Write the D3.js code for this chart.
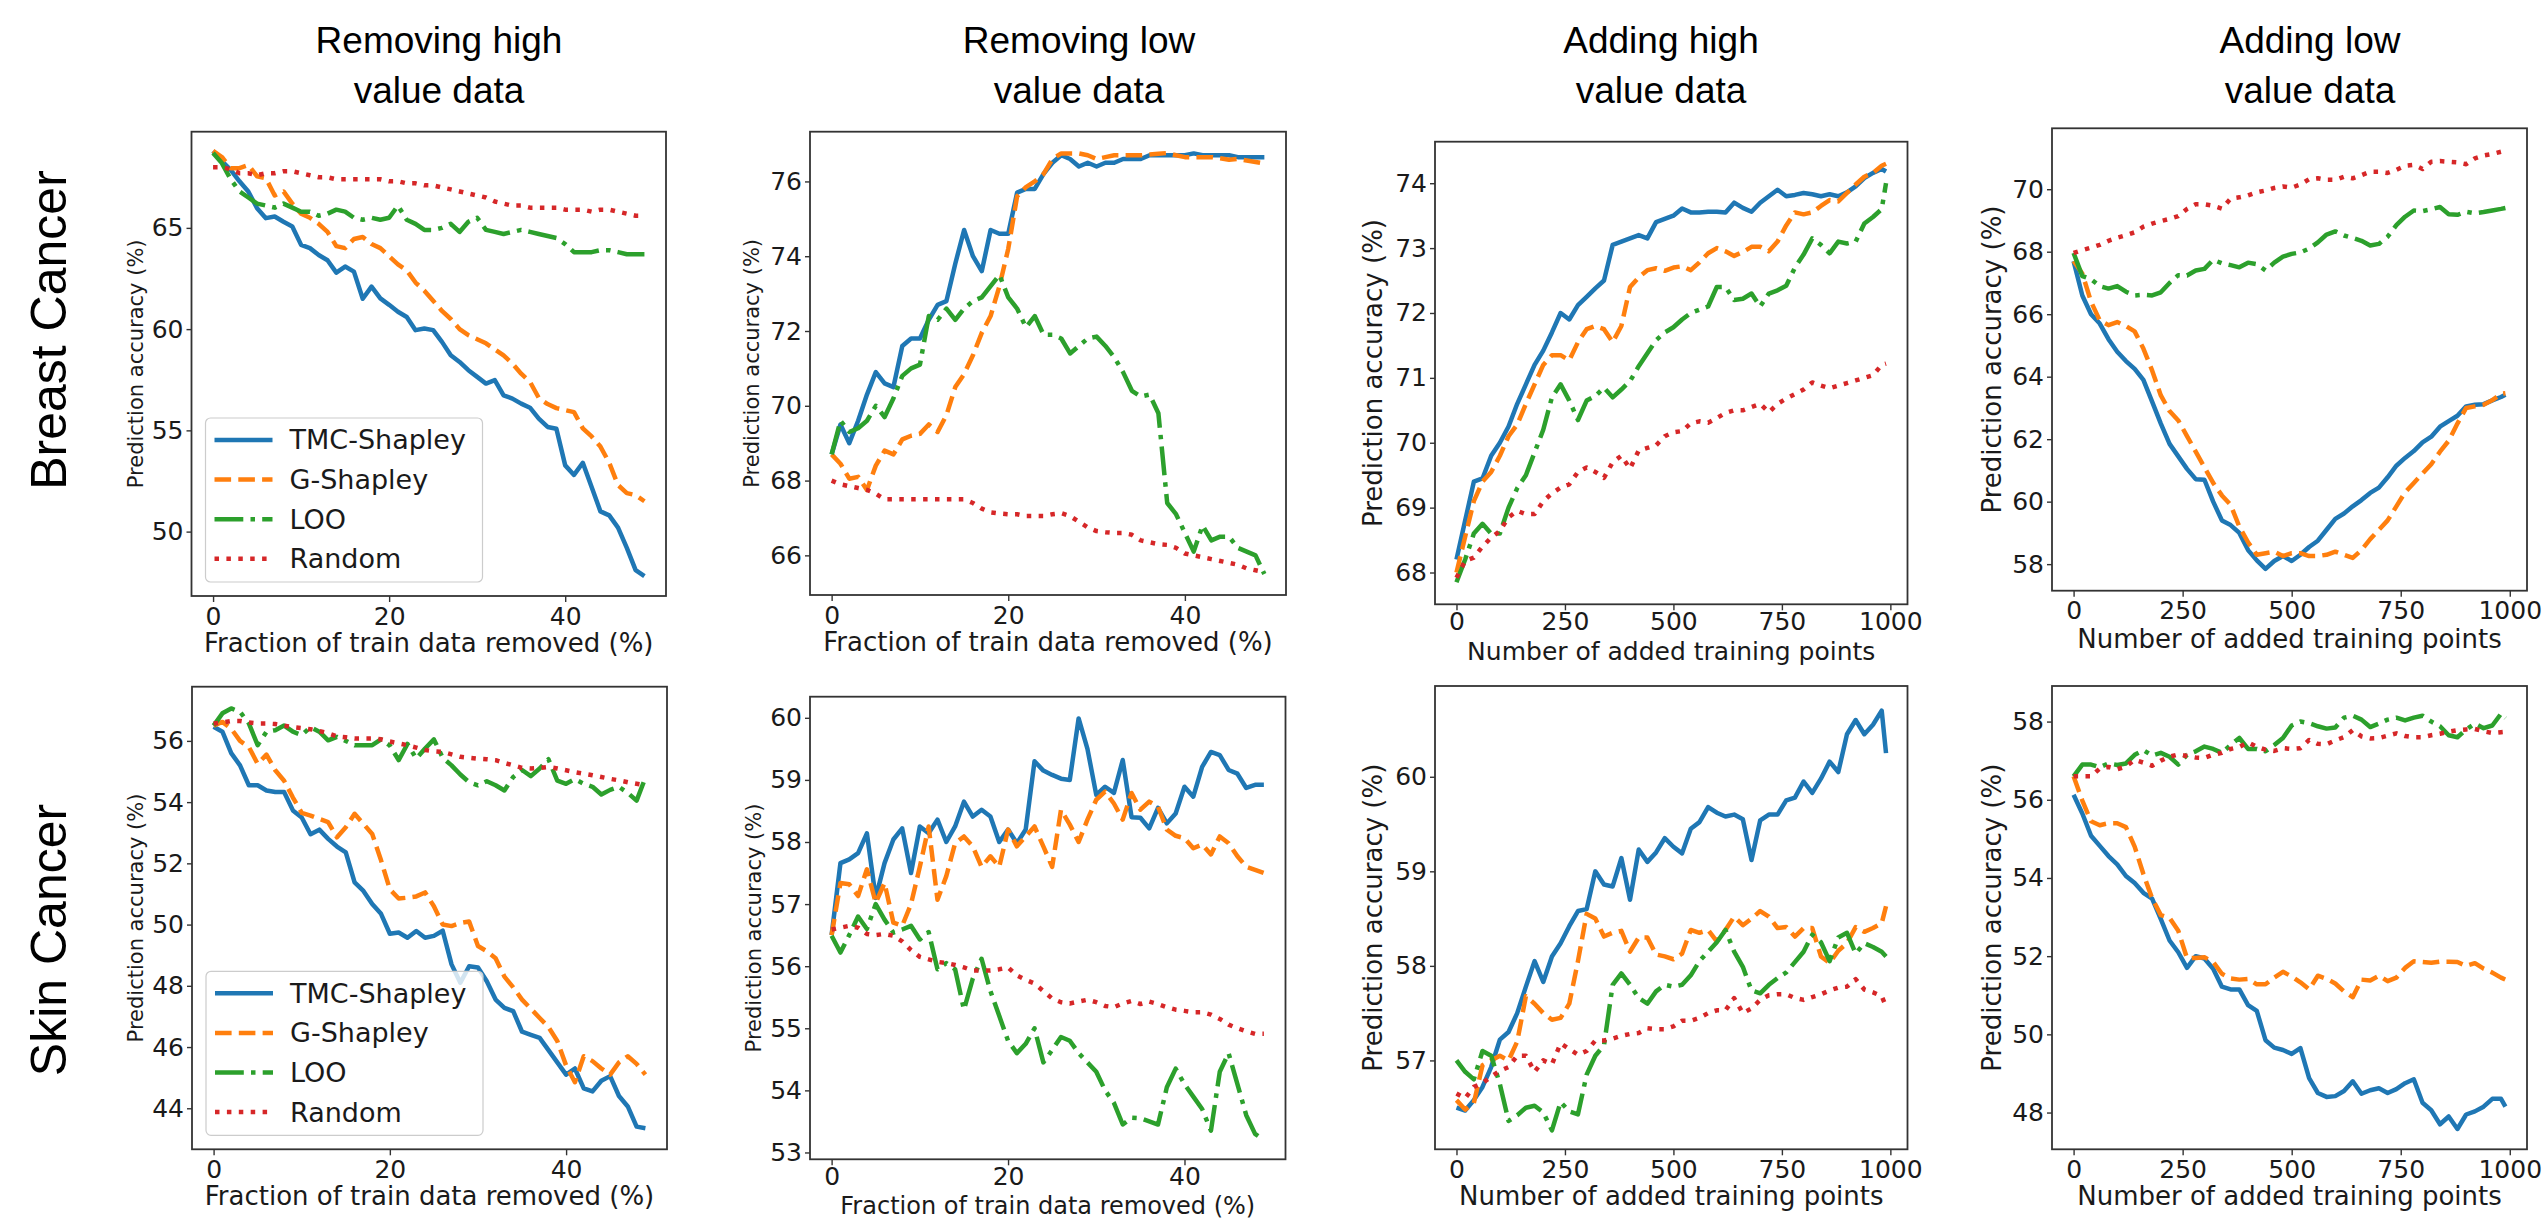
<!DOCTYPE html>
<html><head><meta charset="utf-8">
<script src="https://cdn.jsdelivr.net/npm/d3@7"></script>
<style>body{margin:0;background:#fff}svg{display:block}</style>
</head><body>
<svg id="chart" width="2545" height="1220"></svg>
<script>
// ---------------- DATA ----------------
const methods = ["TMC-Shapley", "G-Shapley", "LOO", "Random"];
const colTitles = [["Removing high", "value data"], ["Removing low", "value data"], ["Adding high", "value data"], ["Adding low", "value data"]];
const rowTitles = ["Breast Cancer", "Skin Cancer"];
const yLabel = "Prediction accuracy (%)";
const xLabelRemove = "Fraction of train data removed (%)";
const xLabelAdd = "Number of added training points";

const fracRemoved = [0,1,2,3,4,5,6,7,8,9,10,11,12,13,14,15,16,17,18,19,20,21,22,23,24,25,26,27,28,29,30,31,32,33,34,35,36,37,38,39,40,41,42,43,44,45,46,47,48,49];
const nAdded = [0,20,40,60,80,100,120,140,160,180,200,220,240,260,280,300,320,340,360,380,400,420,440,460,480,500,520,540,560,580,600,620,640,660,680,700,720,740,760,780,800,820,840,860,880,900,920,940,960,980,990];

const removeTicks = [0,20,40];
const addTicks = [0,250,500,750,1000];

// Breast cancer - removing high value data
const bcRemHighTMC = [68.8,68.3,67.87,67.3,66.8,65.97,65.48,65.56,65.3,65.07,64.16,64.0,63.66,63.4,62.79,63.09,62.84,61.5,62.1,61.52,61.2,60.86,60.6,59.95,60.03,59.95,59.37,58.71,58.38,57.97,57.64,57.31,57.48,56.73,56.57,56.32,56.12,55.58,55.17,55.08,53.27,52.8,53.4,52.2,51.0,50.8,50.2,49.2,48.1,47.8];
const bcRemHighG = [68.8,68.5,67.95,67.95,68.1,67.55,67.45,66.6,66.8,66.2,65.7,65.5,65.2,64.8,64.1,64.0,64.45,64.55,64.2,64.0,63.6,63.2,62.9,62.3,61.9,61.4,60.9,60.5,60.0,59.7,59.5,59.3,59.0,58.7,58.3,57.8,57.4,56.6,56.3,56.1,56.0,55.9,55.1,54.7,54.2,53.4,52.3,51.9,51.8,51.5];
const bcRemHighLOO = [68.7,68.2,67.4,66.8,66.5,66.2,66.1,66.0,66.2,66.0,65.8,65.8,65.6,65.7,65.9,65.8,65.5,65.4,65.5,65.4,65.5,66.1,65.4,65.2,64.9,64.9,65.0,65.2,64.8,65.3,65.5,64.9,64.8,64.7,64.8,64.9,64.8,64.7,64.6,64.5,64.2,63.8,63.8,63.8,63.9,63.9,63.8,63.7,63.7,63.7];
const bcRemHighRand = [68.0,68.0,67.9,67.7,67.7,67.6,67.7,67.7,67.8,67.8,67.7,67.6,67.5,67.5,67.4,67.4,67.4,67.4,67.4,67.4,67.3,67.3,67.2,67.2,67.1,67.1,67.0,66.9,66.8,66.7,66.6,66.5,66.3,66.2,66.1,66.1,66.0,66.0,66.0,66.0,65.9,65.9,65.9,65.8,65.9,65.9,65.8,65.7,65.6,65.6];

// Breast cancer - removing low value data
const bcRemLowTMC = [68.7,69.5,69.0,69.6,70.3,70.9,70.6,70.5,71.6,71.8,71.8,72.3,72.7,72.8,73.8,74.7,74.0,73.6,74.7,74.6,74.6,75.7,75.8,75.8,76.2,76.5,76.7,76.6,76.4,76.5,76.4,76.5,76.5,76.6,76.6,76.6,76.7,76.7,76.7,76.7,76.7,76.75,76.7,76.7,76.7,76.7,76.65,76.65,76.65,76.65];
const bcRemLowG = [68.7,68.45,68.05,68.1,67.75,68.4,68.8,68.7,69.1,69.2,69.25,69.5,69.3,69.75,70.5,70.85,71.35,71.95,72.4,73.2,74.2,75.6,75.85,76.0,76.2,76.6,76.75,76.75,76.75,76.7,76.6,76.65,76.7,76.7,76.7,76.7,76.72,76.74,76.76,76.7,76.65,76.65,76.65,76.65,76.62,76.58,76.6,76.56,76.52,76.48];
const bcRemLowLOO = [68.7,69.6,69.3,69.4,69.6,70.0,69.7,70.2,70.8,71.0,71.1,72.4,72.3,72.6,72.3,72.6,72.8,72.9,73.2,73.5,72.9,72.6,72.1,72.4,71.9,71.9,71.8,71.4,71.6,71.8,71.85,71.6,71.3,70.9,70.4,70.25,70.3,69.8,67.4,67.1,66.6,66.1,66.8,66.4,66.5,66.5,66.2,66.1,66.0,65.5];
const bcRemLowRand = [68.0,67.9,67.85,67.8,67.75,67.65,67.5,67.5,67.5,67.5,67.5,67.5,67.5,67.5,67.5,67.5,67.4,67.25,67.15,67.12,67.1,67.1,67.05,67.05,67.05,67.1,67.13,67.05,66.9,66.75,66.65,66.62,66.6,66.6,66.55,66.4,66.35,66.3,66.28,66.2,66.05,66.0,65.95,65.9,65.85,65.8,65.75,65.65,65.6,65.55];

// Breast cancer - adding high value data
const bcAddHighTMC = [68.2,68.8,69.4,69.45,69.8,70.0,70.25,70.6,70.9,71.2,71.42,71.7,72.0,71.9,72.12,72.25,72.38,72.5,73.05,73.1,73.15,73.2,73.15,73.4,73.45,73.5,73.61,73.55,73.55,73.56,73.56,73.55,73.7,73.62,73.56,73.7,73.8,73.9,73.8,73.82,73.85,73.83,73.8,73.83,73.8,73.86,73.95,74.08,74.16,74.22,74.18];
const bcAddHighG = [68.0,68.55,69.1,69.4,69.55,69.8,70.1,70.28,70.6,70.9,71.2,71.35,71.35,71.27,71.55,71.75,71.8,71.75,71.55,71.8,72.4,72.55,72.66,72.69,72.65,72.7,72.72,72.66,72.78,72.92,73.0,72.95,72.88,72.94,73.02,73.02,72.95,73.1,73.35,73.55,73.52,73.55,73.65,73.74,73.72,73.85,73.98,74.1,74.16,74.27,74.3];
const bcAddHighLOO = [67.85,68.2,68.6,68.75,68.6,68.6,69.0,69.3,69.5,69.85,70.2,70.7,70.9,70.65,70.35,70.65,70.72,70.85,70.7,70.82,70.95,71.18,71.38,71.58,71.7,71.78,71.9,72.0,72.05,72.1,72.4,72.4,72.2,72.22,72.3,72.1,72.3,72.35,72.42,72.7,72.9,73.15,73.05,72.92,73.1,73.07,73.1,73.38,73.48,73.6,74.0];
const bcAddHighRand = [67.92,68.18,68.23,68.4,68.54,68.64,68.85,68.95,68.9,68.9,69.1,69.22,69.31,69.36,69.55,69.62,69.55,69.46,69.7,69.8,69.6,69.88,69.92,69.96,70.1,70.16,70.18,70.3,70.33,70.31,70.38,70.46,70.5,70.5,70.55,70.6,70.47,70.6,70.68,70.75,70.82,70.93,70.88,70.84,70.88,70.92,70.96,71.0,71.04,71.2,71.22];

// Breast cancer - adding low value data
const bcAddLowTMC = [67.7,66.6,66.0,65.7,65.2,64.8,64.5,64.25,63.9,63.2,62.5,61.85,61.45,61.05,60.72,60.7,60.0,59.4,59.25,59.0,58.45,58.12,57.85,58.1,58.26,58.1,58.3,58.55,58.75,59.1,59.45,59.62,59.85,60.05,60.28,60.45,60.78,61.15,61.4,61.62,61.9,62.08,62.4,62.58,62.75,63.05,63.1,63.12,63.24,63.35,63.42];
const bcAddLowG = [67.7,67.3,66.4,65.8,65.65,65.75,65.62,65.45,64.9,64.2,63.4,62.9,62.6,62.1,61.6,61.1,60.6,60.2,59.9,59.2,58.7,58.3,58.35,58.4,58.26,58.35,58.35,58.26,58.26,58.3,58.4,58.3,58.2,58.45,58.8,59.1,59.4,59.85,60.3,60.6,60.9,61.2,61.6,61.95,62.5,63.0,63.05,63.1,63.25,63.45,63.47];
const bcAddLowLOO = [67.96,67.22,67.12,66.9,66.82,66.9,66.72,66.6,66.62,66.6,66.7,67.0,67.25,67.24,67.4,67.45,67.74,67.63,67.57,67.5,67.65,67.6,67.4,67.65,67.84,67.93,67.98,68.1,68.3,68.55,68.65,68.52,68.44,68.35,68.2,68.25,68.48,68.85,69.12,69.32,69.3,69.36,69.43,69.2,69.18,69.28,69.23,69.27,69.32,69.37,69.4];
const bcAddLowRand = [67.96,68.05,68.13,68.22,68.35,68.45,68.53,68.62,68.8,68.9,68.98,69.05,69.14,69.37,69.52,69.52,69.47,69.38,69.7,69.74,69.8,69.9,69.96,70.04,70.09,70.05,70.15,70.32,70.35,70.3,70.3,70.4,70.35,70.45,70.56,70.56,70.52,70.62,70.75,70.78,70.65,70.88,70.9,70.88,70.86,70.8,70.99,71.08,71.13,71.2,71.22];

// Skin cancer - removing high value data
const scRemHighTMC = [56.46,56.3,55.6,55.2,54.55,54.55,54.38,54.33,54.33,53.73,53.5,52.95,53.1,52.8,52.55,52.36,51.38,51.1,50.67,50.35,49.7,49.74,49.57,49.79,49.57,49.63,49.8,48.7,48.1,48.64,48.6,48.15,47.55,47.28,47.17,46.5,46.4,46.3,45.9,45.5,45.1,45.3,44.65,44.55,44.9,45.05,44.4,44.06,43.4,43.35];
const scRemHighG = [56.5,56.62,56.4,56.0,55.8,55.25,55.55,55.04,54.7,54.15,53.65,53.56,53.45,53.35,52.85,53.18,53.62,53.29,52.96,52.1,51.15,50.85,50.88,50.92,51.05,50.6,50.0,49.95,50.05,50.1,49.3,49.13,48.9,48.3,47.95,47.55,47.25,46.95,46.65,46.2,45.4,44.85,45.7,45.54,45.3,45.1,45.5,45.7,45.45,45.1];
const scRemHighLOO = [56.5,56.9,57.06,56.95,56.57,55.86,56.3,56.35,56.5,56.3,56.19,56.45,56.3,56.02,56.13,56.0,55.86,55.86,55.86,56.05,55.85,55.37,55.9,55.42,55.75,56.05,55.45,55.2,54.9,54.65,54.55,54.68,54.55,54.38,54.82,55.05,54.85,55.1,55.4,54.7,54.6,54.75,54.6,54.5,54.25,54.4,54.5,54.3,54.05,54.8];
const scRemHighRand = [56.57,56.6,56.65,56.65,56.6,56.57,56.57,56.55,56.5,56.45,56.42,56.38,56.32,56.25,56.15,56.12,56.08,56.08,56.08,56.05,55.98,55.92,55.86,55.78,55.7,55.66,55.64,55.56,55.48,55.45,55.42,55.4,55.37,55.28,55.2,55.12,55.1,55.12,55.15,55.1,55.04,54.98,54.93,54.88,54.82,54.76,54.71,54.65,54.6,54.55];

// Skin cancer - removing low value data
const scRemLowTMC = [56.5,57.66,57.72,57.82,58.14,57.1,57.66,58.04,58.22,57.5,58.25,58.14,58.36,58.0,58.25,58.65,58.41,58.52,58.41,58.0,58.2,57.98,58.2,59.3,59.15,59.08,59.02,59.0,59.99,59.5,58.76,58.89,58.79,59.32,58.4,58.39,58.22,58.55,58.3,58.46,58.89,58.73,59.21,59.45,59.4,59.16,59.1,58.87,58.92,58.92];
const scRemLowG = [56.5,57.34,57.32,57.13,57.56,57.02,57.34,56.7,56.65,57.0,57.6,58.25,57.07,57.45,57.98,58.09,57.93,57.6,57.77,57.6,58.2,57.93,58.09,58.25,57.93,57.6,58.52,58.28,58.0,58.36,58.68,58.81,58.62,58.36,58.79,58.52,58.65,58.57,58.2,58.1,58.06,57.9,57.96,57.8,58.09,57.98,57.77,57.6,57.55,57.5];
const scRemLowLOO = [56.49,56.22,56.5,56.8,56.6,57.0,56.75,56.54,56.59,56.65,56.43,56.55,55.95,56.05,55.95,55.3,55.8,56.12,55.6,55.2,54.8,54.6,54.75,55.0,54.45,54.65,54.86,54.8,54.6,54.45,54.3,54.0,53.8,53.45,53.56,53.55,53.5,53.45,54.05,54.35,54.1,53.9,53.7,53.35,54.3,54.6,54.1,53.6,53.3,53.2];
const scRemLowRand = [56.59,56.62,56.65,56.62,56.52,56.5,56.52,56.49,56.4,56.26,56.15,56.11,56.07,56.05,56.02,55.98,55.93,55.93,55.93,55.95,55.98,55.85,55.78,55.72,55.6,55.48,55.42,55.4,55.43,55.46,55.42,55.36,55.34,55.4,55.44,55.39,55.43,55.39,55.34,55.3,55.28,55.26,55.26,55.22,55.15,55.06,55.0,54.95,54.91,54.91];

// Skin cancer - adding high value data
const scAddHighTMC = [56.5,56.47,56.58,56.72,56.93,57.22,57.3,57.5,57.78,58.05,57.83,58.1,58.24,58.42,58.58,58.6,59.0,58.86,58.84,59.14,58.7,59.23,59.1,59.2,59.35,59.26,59.19,59.45,59.52,59.68,59.62,59.58,59.6,59.55,59.12,59.54,59.6,59.6,59.75,59.78,59.95,59.83,59.98,60.16,60.05,60.45,60.6,60.45,60.55,60.7,60.25];
const scAddHighG = [56.58,56.48,56.55,56.95,57.0,57.05,57.0,57.2,57.68,57.6,57.5,57.43,57.45,57.6,58.05,58.55,58.5,58.31,58.35,58.37,58.15,58.3,58.3,58.12,58.1,58.07,58.13,58.38,58.35,58.38,58.26,58.38,58.52,58.43,58.5,58.58,58.52,58.4,58.41,58.31,58.4,58.4,58.1,58.03,58.16,58.24,58.41,58.36,58.4,58.45,58.63];
const scAddHighLOO = [57.0,56.88,56.8,57.1,57.05,56.75,56.36,56.42,56.5,56.52,56.45,56.26,56.56,56.46,56.43,56.85,57.05,57.16,57.8,57.92,57.8,57.66,57.6,57.73,57.8,57.78,57.8,57.9,58.05,58.15,58.25,58.38,58.15,57.99,57.74,57.71,57.8,57.87,57.93,58.04,58.15,58.33,58.25,58.05,58.3,58.35,58.13,58.24,58.2,58.15,58.1];
const scAddHighRand = [56.65,56.6,56.72,56.76,56.83,56.89,56.93,57.05,57.05,56.88,57.0,56.96,57.18,57.12,57.06,57.1,57.21,57.21,57.23,57.26,57.28,57.29,57.34,57.33,57.33,57.36,57.42,57.42,57.45,57.5,57.53,57.53,57.66,57.5,57.55,57.64,57.69,57.7,57.7,57.66,57.64,57.67,57.7,57.74,57.77,57.78,57.86,57.75,57.72,57.68,57.57];

// Skin cancer - adding low value data
const scAddLowTMC = [56.13,55.65,55.08,54.82,54.56,54.35,54.05,53.87,53.62,53.47,52.95,52.4,52.1,51.7,52.0,51.94,51.68,51.22,51.15,51.15,50.75,50.6,49.85,49.66,49.6,49.5,49.65,48.88,48.5,48.4,48.42,48.55,48.8,48.48,48.57,48.62,48.5,48.6,48.75,48.85,48.25,48.06,47.7,47.9,47.58,47.95,48.03,48.15,48.35,48.35,48.15];
const scAddLowG = [56.6,55.98,55.45,55.35,55.4,55.4,55.3,54.8,54.1,53.48,53.05,52.98,52.65,51.95,51.95,51.97,51.85,51.55,51.43,51.4,51.42,51.28,51.28,51.45,51.6,51.48,51.33,51.15,51.5,51.42,51.3,51.1,50.95,51.4,51.38,51.5,51.36,51.45,51.7,51.87,51.85,51.83,51.86,51.86,51.85,51.75,51.82,51.68,51.58,51.45,51.4];
const scAddLowLOO = [56.6,56.9,56.9,56.83,56.93,56.89,56.93,57.15,57.27,57.13,57.2,57.1,56.9,57.15,57.24,57.36,57.3,57.2,57.4,57.58,57.3,57.3,57.24,57.4,57.58,57.9,58.0,57.96,57.88,57.82,57.85,58.1,58.15,58.05,57.86,57.95,58.05,58.1,58.03,58.1,58.15,58.0,57.88,57.65,57.6,57.8,57.95,57.83,57.9,58.2,58.09];
const scAddLowRand = [56.6,56.6,56.6,56.8,56.84,56.78,56.85,57.02,56.95,56.87,57.0,57.1,57.16,57.12,57.08,57.07,57.15,57.2,57.3,57.35,57.47,57.36,57.28,57.25,57.32,57.3,57.32,57.53,57.43,57.42,57.52,57.6,57.78,57.62,57.57,57.58,57.64,57.7,57.63,57.6,57.6,57.65,57.69,57.74,57.78,57.8,57.81,57.75,57.71,57.73,57.74];

// ---------------- LAYOUT / STYLE ----------------
const colors = ["#1f77b4", "#ff7f0e", "#2ca02c", "#d62728"];
const LW = 4.5;
const dashes = [null, "16.6,7.2", "28.8,7.2,4.5,7.2", "4.5,7.4"];

const panels = [
  {xs: fracRemoved, series: [bcRemHighTMC, bcRemHighG, bcRemHighLOO, bcRemHighRand], box: [191.5,131.7,666,596], xDom: [-2.45,51.45], yDom: [46.82,69.75], xt: removeTicks, yt: [50,55,60,65], xl: xLabelRemove, xlOff: 47, xlSize: 26, tPad: 5, ylSize: 21, ylOff: 56, legend: true},
  {xs: fracRemoved, series: [bcRemLowTMC, bcRemLowG, bcRemLowLOO, bcRemLowRand], box: [810,131.7,1286,595], xDom: [-2.45,51.45], yDom: [64.94,77.33], xt: removeTicks, yt: [66,68,70,72,74,76], xl: xLabelRemove, xlOff: 47, xlSize: 26, tPad: 5, ylSize: 21, ylOff: 58},
  {xs: nAdded, series: [bcAddHighTMC, bcAddHighG, bcAddHighLOO, bcAddHighRand], box: [1435,141.7,1907.5,604.3], xDom: [-49.5,1039.5], yDom: [67.51,74.64], xt: addTicks, yt: [68,69,70,71,72,73,74], xl: xLabelAdd, xlOff: 47, xlSize: 25, tPad: 2, ylSize: 26, ylOff: 62},
  {xs: nAdded, series: [bcAddLowTMC, bcAddLowG, bcAddLowLOO, bcAddLowRand], box: [2052,128.3,2527,590.7], xDom: [-49.5,1039.5], yDom: [57.15,71.95], xt: addTicks, yt: [58,60,62,64,66,68,70], xl: xLabelAdd, xlOff: 48, xlSize: 26, tPad: 5, ylSize: 26, ylOff: 60},
  {xs: fracRemoved, series: [scRemHighTMC, scRemHighG, scRemHighLOO, scRemHighRand], box: [192,686.7,667,1149.3], xDom: [-2.45,51.45], yDom: [42.66,57.77], xt: removeTicks, yt: [44,46,48,50,52,54,56], xl: xLabelRemove, xlOff: 47, xlSize: 26, tPad: 5, ylSize: 21, ylOff: 56, legend: true},
  {xs: fracRemoved, series: [scRemLowTMC, scRemLowG, scRemLowLOO, scRemLowRand], box: [810,696.7,1285.5,1159.3], xDom: [-2.45,51.45], yDom: [52.89,60.34], xt: removeTicks, yt: [53,54,55,56,57,58,59,60], xl: xLabelRemove, xlOff: 46, xlSize: 24, tPad: 2, ylSize: 21, ylOff: 56},
  {xs: nAdded, series: [scAddHighTMC, scAddHighG, scAddHighLOO, scAddHighRand], box: [1435,686,1907.5,1149.3], xDom: [-49.5,1039.5], yDom: [56.06,60.96], xt: addTicks, yt: [57,58,59,60], xl: xLabelAdd, xlOff: 47, xlSize: 26, tPad: 5, ylSize: 26, ylOff: 62},
  {xs: nAdded, series: [scAddLowTMC, scAddLowG, scAddLowLOO, scAddLowRand], box: [2052,686,2527,1149.3], xDom: [-49.5,1039.5], yDom: [47.06,58.91], xt: addTicks, yt: [48,50,52,54,56,58], xl: xLabelAdd, xlOff: 47, xlSize: 26, tPad: 5, ylSize: 26, ylOff: 60}
];

const FONT = "'DejaVu Sans', sans-serif";
const TITLE_FONT = "'Liberation Sans', Arial, sans-serif";
const svg = d3.select("#chart");
svg.append("rect").attr("width", 2545).attr("height", 1220).attr("fill", "#fff");

panels.forEach(p => {
  const [L, T, R, B] = p.box;
  const x = d3.scaleLinear().domain(p.xDom).range([L, R]);
  const y = d3.scaleLinear().domain(p.yDom).range([B, T]);
  const g = svg.append("g");

  const line = d3.line().x((d, i) => x(p.xs[i])).y(d => y(d));
  p.series.forEach((vals, k) => {
    g.append("path").datum(vals).attr("d", line)
      .attr("fill", "none").attr("stroke", colors[k]).attr("stroke-width", LW)
      .attr("stroke-linejoin", "round").attr("stroke-linecap", "butt")
      .attr("stroke-dasharray", dashes[k]);
  });

  g.append("rect").attr("x", L).attr("y", T).attr("width", R - L).attr("height", B - T)
    .attr("fill", "none").attr("stroke", "#333").attr("stroke-width", 1.8);

  const ax = g.append("g").attr("transform", `translate(0,${B})`)
    .call(d3.axisBottom(x).tickValues(p.xt).tickSize(6).tickPadding(p.tPad).tickFormat(d3.format("d")));
  ax.select(".domain").remove();
  ax.selectAll("line").attr("stroke", "#333").attr("stroke-width", 1.4);
  ax.selectAll("text").attr("font-size", 25).attr("font-family", FONT).attr("fill", "#1a1a1a");

  const ay = g.append("g").attr("transform", `translate(${L},0)`)
    .call(d3.axisLeft(y).tickValues(p.yt).tickSize(5).tickPadding(3).tickFormat(d3.format("d")));
  ay.select(".domain").remove();
  ay.selectAll("line").attr("stroke", "#333").attr("stroke-width", 1.4);
  ay.selectAll("text").attr("font-size", 25).attr("font-family", FONT).attr("fill", "#1a1a1a");

  g.append("text").attr("x", (L + R) / 2).attr("y", B + p.xlOff).attr("dy", "0.35em")
    .attr("text-anchor", "middle").attr("font-family", FONT).attr("font-size", p.xlSize).attr("fill", "#1a1a1a")
    .text(p.xl);

  g.append("text").attr("transform", `translate(${L - p.ylOff},${(T + B) / 2}) rotate(-90)`)
    .attr("dy", "0.35em").attr("text-anchor", "middle").attr("font-family", FONT)
    .attr("font-size", p.ylSize).attr("fill", "#1a1a1a").text(yLabel);

  if (p.legend) {
    const lx = L + 14, lw = 277, lh = 164, ly = B - 14 - lh;
    const lg = g.append("g");
    lg.append("rect").attr("x", lx).attr("y", ly).attr("width", lw).attr("height", lh).attr("rx", 5)
      .attr("fill", "#fff").attr("fill-opacity", 0.8).attr("stroke", "#cccccc").attr("stroke-width", 1.2);
    methods.forEach((m, k) => {
      const cy = ly + 22 + k * 39.6;
      lg.append("line").attr("x1", lx + 9).attr("x2", lx + 67).attr("y1", cy).attr("y2", cy)
        .attr("stroke", colors[k]).attr("stroke-width", LW).attr("stroke-dasharray", dashes[k]);
      lg.append("text").attr("x", lx + 84).attr("y", cy).attr("dy", "0.35em")
        .attr("font-family", FONT).attr("font-size", 27).attr("fill", "#1a1a1a").text(m);
    });
  }
});

// column titles
const titleX = [439, 1079, 1661, 2310];
colTitles.forEach((lines, i) => {
  lines.forEach((t, j) => {
    svg.append("text").attr("x", titleX[i]).attr("y", 53 + j * 50).attr("text-anchor", "middle")
      .attr("font-family", TITLE_FONT).attr("font-size", 37).attr("fill", "#000").text(t);
  });
});

// row titles
const rowY = [330, 940];
rowTitles.forEach((t, i) => {
  svg.append("text").attr("transform", `translate(48,${rowY[i]}) rotate(-90)`)
    .attr("dy", "0.35em").attr("text-anchor", "middle")
    .attr("font-family", TITLE_FONT).attr("font-size", 50).attr("fill", "#000").text(t);
});
</script>
</body></html>
